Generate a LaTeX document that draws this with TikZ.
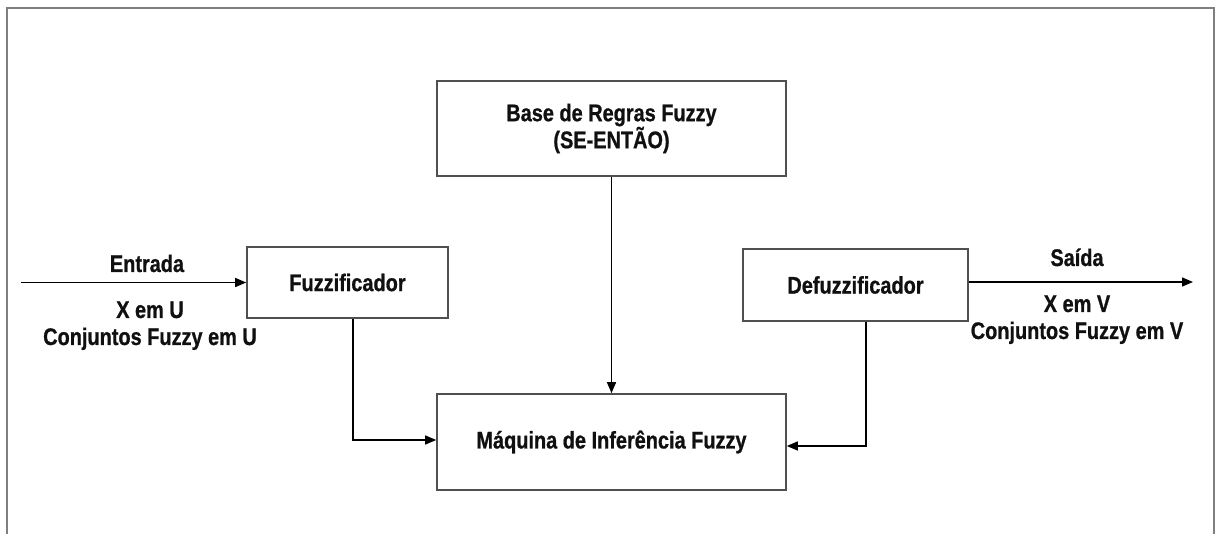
\documentclass[tikz,border=0pt]{standalone}
\usepackage{fontspec}
\setmainfont{Liberation Sans}[FakeStretch=0.83, BoldFeatures={FakeBold=0.8}]
\usetikzlibrary{arrows.meta}
\definecolor{framegray}{HTML}{7F7F7F}
\definecolor{boxgray}{HTML}{505050}
\definecolor{txt}{HTML}{101010}
\tikzset{
  blk/.style={draw=boxgray, line width=1.6pt, fill=white, inner sep=0pt,
    font=\bfseries\fontsize{24}{27}\selectfont, text=txt, align=center},
  lbl/.style={anchor=base, inner sep=0pt, font=\bfseries\fontsize{24}{27}\selectfont, text=txt},
  conn/.style={line width=1.4pt, draw=black, -{Triangle[length=11pt,width=9pt]}}
}
\begin{document}
\begin{tikzpicture}[x=1pt,y=-1pt]
\useasboundingbox (0,0) rectangle (1216,534);
\draw[framegray, line width=2pt] (7,534) -- (7,8) -- (1214,8) -- (1214,534);

\node[blk, minimum width=349pt, minimum height=95pt] (rules) at (611.5,128.5)
  {Base de Regras Fuzzy\\(SE-ENTÃO)};
\node[blk, minimum width=201pt, minimum height=71pt] (fuzz) at (347.5,282.5) {Fuzzificador};
\node[blk, minimum width=225pt, minimum height=72pt] (defuzz) at (855.5,285) {Defuzzificador};
\node[blk, minimum width=349pt, minimum height=96pt] (maq) at (611.5,442) {Máquina de Inferência Fuzzy};

\coordinate (in) at (21,282.5);
\coordinate (out) at (1193,282);

\draw[conn] (in) -- (fuzz.west);
\draw[conn] ([yshift=3pt]defuzz.east) -- (out);
\draw[conn] (rules.south) -- (maq.north);
\draw[conn] ([xshift=5.5pt]fuzz.south) |- ([yshift=2pt]maq.west);
\draw[conn] ([xshift=10.5pt]defuzz.south) |- ([yshift=-4pt]maq.east);

\node[lbl] (l1) at (147,272) {Entrada};
\node[lbl] (l2) at (150,318) {X em U};
\node[lbl] (l3) at (150,345) {Conjuntos Fuzzy em U};
\node[lbl] (r1) at (1077,266) {Saída};
\node[lbl] (r2) at (1077,312) {X em V};
\node[lbl] (r3) at (1077,339) {Conjuntos Fuzzy em V};
\end{tikzpicture}
\end{document}
